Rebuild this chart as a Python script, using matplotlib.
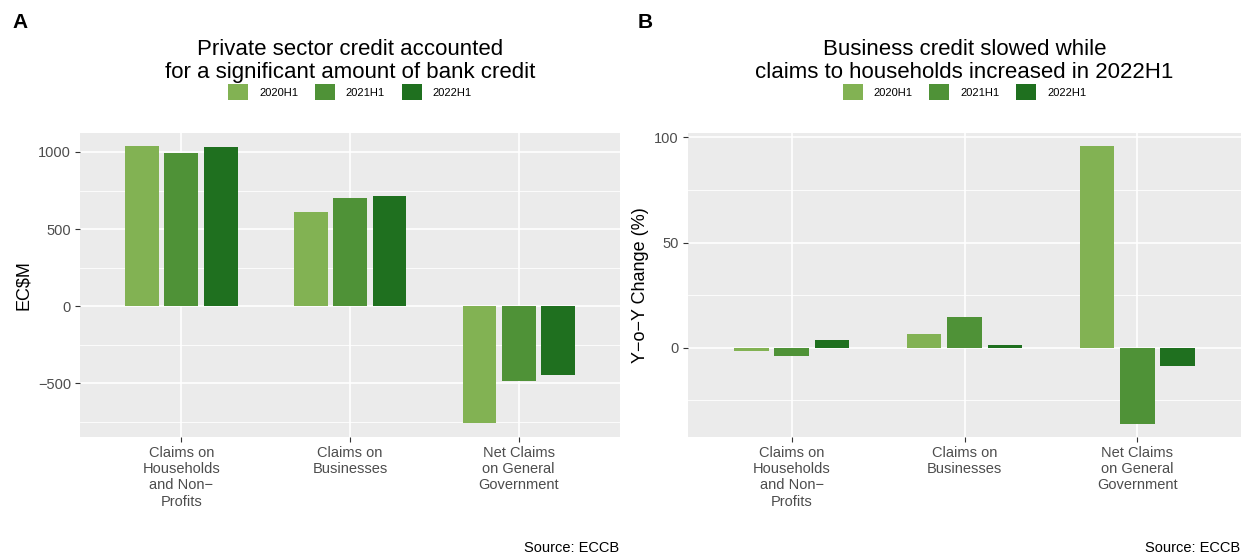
import matplotlib
matplotlib.use("Agg")
import matplotlib.pyplot as plt
import numpy as np

plt.rcParams['font.family'] = ['Liberation Sans', 'DejaVu Sans']

categories = ["Claims on\nHouseholds\nand Non\u2212\nProfits", "Claims on\nBusinesses",
              "Net Claims\non General\nGovernment"]
periods = ["2020H1", "2021H1", "2022H1"]
colors = ["#82B253", "#4F9237", "#1F701F"]

# EC$M levels, by period
levels = {
    "2020H1": [1037, 609, -756],
    "2021H1": [992, 700, -486],
    "2022H1": [1030, 713, -447],
}
# year-on-year change (%)
changes = {
    "2020H1": [-1.8, 6.7, 96.0],
    "2021H1": [-4.1, 14.8, -36.2],
    "2022H1": [3.8, 1.4, -8.9],
}

W, H = 1241, 555
fig = plt.figure(figsize=(W / 100, H / 100), dpi=100)

def px_axes(left, right, top, bottom):
    return fig.add_axes([left / W, 1 - bottom / H, (right - left) / W, (bottom - top) / H])

def panel(ax, data, ylim, major, minor, ylabel, title, letter, letter_x, src_x):
    x = np.arange(len(categories))
    for i, p in enumerate(periods):
        ax.bar(x + (i - 1) * 0.7 / 3, data[p], width=0.2, color=colors[i], label=p, zorder=3)
    ax.set_facecolor("#EBEBEB")
    ax.set_xlim(-0.6, len(categories) - 0.4)
    ax.set_ylim(*ylim)
    ax.set_yticks(major)
    ax.set_yticks(minor, minor=True)
    ax.set_yticklabels([str(v).replace("-", "\u2212") for v in major])
    ax.set_xticks(x)
    ax.set_xticklabels(categories, linespacing=1.2)
    ax.grid(which="major", color="white", linewidth=1.2, zorder=0)
    ax.grid(which="minor", axis="y", color="white", linewidth=0.6, zorder=0)
    ax.set_axisbelow(True)
    for s in ax.spines.values():
        s.set_visible(False)
    ax.tick_params(axis="both", which="major", colors="#333333", labelcolor="#4D4D4D",
                   labelsize=10.5, length=3.5, width=0.8, pad=3)
    ax.tick_params(axis="y", which="minor", length=0)
    ax.set_ylabel(ylabel, fontsize=13, color="black", labelpad=4)
    # title and legend placed in figure pixels
    pos = ax.get_position()
    cx = (pos.x0 + pos.x1) / 2
    fig.text(cx, 1 - 61 / H, title, fontsize=16, ha="center", va="center",
             linespacing=1.15)
    leg_y = (437 - 92) / 304
    ax.legend(loc="center", bbox_to_anchor=(0.5, leg_y), ncol=3, frameon=False,
              fontsize=8, handlelength=1.8, handleheight=1.8, columnspacing=1.5,
              handletextpad=1.0)
    fig.text(letter_x / W, 1 - 22 / H, letter, fontsize=15, fontweight="bold", va="center")
    fig.text(src_x / W, 1 - 548 / H, "Source: ECCB", fontsize=10.5, ha="right", va="center")

axA = px_axes(80, 620, 133, 437)
panel(axA, levels, (-847, 1123), [-500, 0, 500, 1000], [-750, -250, 250, 750],
      "EC$M", "Private sector credit accounted\nfor a significant amount of bank credit",
      "A", 12, 619)

axB = px_axes(688, 1241, 133, 437)
panel(axB, changes, (-42.5, 102.1), [0, 50, 100], [-25, 25, 75],
      "Y\u2212o\u2212Y Change (%)",
      "Business credit slowed while\nclaims to households increased in 2022H1",
      "B", 638, 1240)

fig.savefig("out.png", dpi=100)
